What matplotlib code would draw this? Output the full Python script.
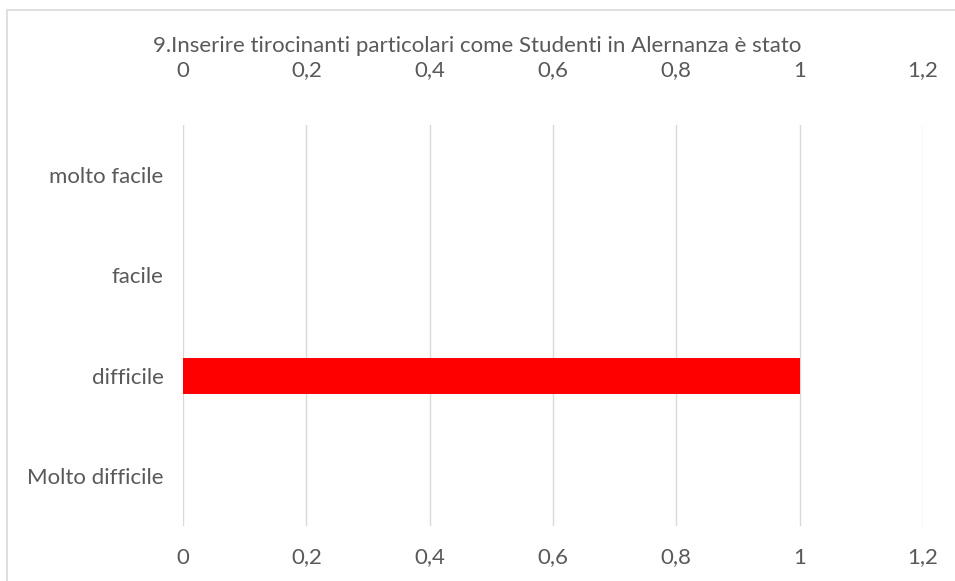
import matplotlib
matplotlib.use('Agg')
import matplotlib.pyplot as plt
from matplotlib.patches import Rectangle
from matplotlib.ticker import FuncFormatter

categories = ['molto facile', 'facile', 'difficile', 'Molto difficile']
values = [0, 0, 1, 0]
xticks = [0, 0.2, 0.4, 0.6, 0.8, 1.0, 1.2]
title = '9.Inserire tirocinanti particolari come Studenti in Alernanza è stato'

plt.rcParams['font.family'] = ['Lato', 'DejaVu Sans']
FS = 16
GREY = '#595959'


def comma(v, p):
    return ('%g' % round(v, 1)).replace('.', ',')


fig = plt.figure(figsize=(9.55, 5.81), dpi=100)
# chart border (right and bottom edges fall outside the image)
fig.patches.append(Rectangle((7 / 955, -10 / 581), 960 / 955, 581 / 581, transform=fig.transFigure,
                             fill=False, edgecolor='#d9d9d9', linewidth=1.2))

ax = fig.add_axes([183 / 955, 1 - 526 / 581, 740 / 955, 401 / 581])
ypos = list(range(len(categories)))
ax.barh(ypos, values, height=0.36, color='#ff0000', zorder=3)
ax.set_yticks(ypos)
ax.set_yticklabels(categories)
ax.set_ylim(len(categories) - 0.5, -0.5)
ax.set_xlim(0, 1.2)
ax.set_xticks(xticks)
ax.xaxis.set_major_formatter(FuncFormatter(comma))
ax.grid(axis='x', color='#d9d9d9', linewidth=1, zorder=0)
ax.tick_params(axis='x', which='both', top=False, bottom=False, labeltop=False, labelbottom=True,
               labelsize=FS, labelcolor=GREY, pad=12)
ax.tick_params(axis='y', length=0, labelsize=FS, labelcolor=GREY, pad=14)
for s in ax.spines.values():
    s.set_visible(False)

# top axis repeats the same ticks
top = ax.secondary_xaxis('top')
top.set_xticks(xticks)
top.xaxis.set_major_formatter(FuncFormatter(comma))
top.tick_params(length=0, labelsize=FS, labelcolor=GREY, pad=32)
top.spines['top'].set_visible(False)

fig.text(0.5, 1 - 46 / 581, title, ha='center', va='center', fontsize=FS, color=GREY)

fig.savefig('out.png', dpi=100)
